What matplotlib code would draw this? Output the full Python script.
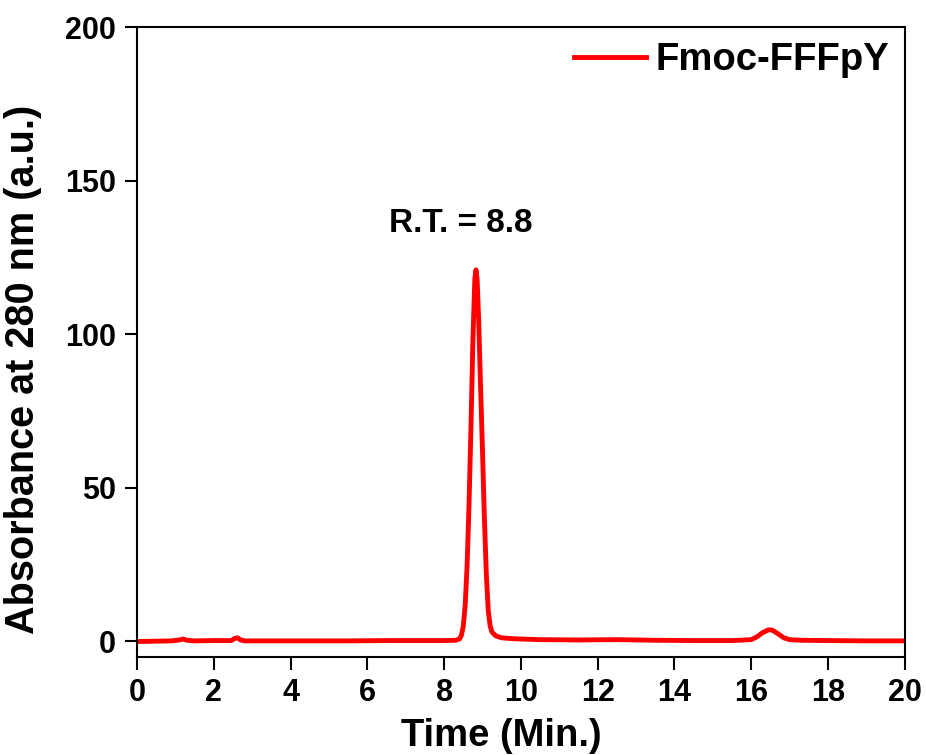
import matplotlib

matplotlib.use("Agg")
import matplotlib.pyplot as plt

plt.rcParams["font.family"] = ["Liberation Sans", "DejaVu Sans"]
plt.rcParams["font.weight"] = "bold"

# chromatogram (time in min, absorbance a.u.)
time_min = [
    0.0, 0.5, 0.9, 1.1, 1.2, 1.3, 1.5, 2.0, 2.45, 2.55, 2.62, 2.7, 2.8,
    3.5, 4.5, 5.5, 6.5, 7.5, 8.0, 8.3, 8.4, 8.45, 8.5, 8.55, 8.6, 8.65,
    8.7, 8.75, 8.8, 8.83, 8.86, 8.9, 8.95, 9.0, 9.05, 9.1, 9.15, 9.2,
    9.25, 9.35, 9.5, 9.8, 10.5, 11.5, 12.5, 13.5, 14.5, 15.5, 16.0,
    16.15, 16.3, 16.45, 16.55, 16.7, 16.85, 17.0, 17.3, 18.0, 19.0, 20.0,
]
absorbance = [
    0.0, 0.1, 0.2, 0.5, 0.8, 0.4, 0.2, 0.3, 0.3, 1.0, 1.2, 0.5, 0.2,
    0.2, 0.2, 0.2, 0.3, 0.3, 0.3, 0.4, 0.8, 2.0, 5.0, 12.0, 25.0, 45.0,
    70.0, 98.0, 118.0, 121.0, 118.0, 105.0, 83.0, 62.0, 40.0, 22.0, 10.0, 5.0,
    3.0, 1.8, 1.2, 0.9, 0.6, 0.5, 0.6, 0.4, 0.3, 0.3, 0.6,
    1.5, 2.9, 3.8, 3.7, 2.5, 1.2, 0.6, 0.4, 0.3, 0.2, 0.2,
]
series_label = "Fmoc-FFFpY"
x_ticks = [0, 2, 4, 6, 8, 10, 12, 14, 16, 18, 20]
y_ticks = [0, 50, 100, 150, 200]

fig = plt.figure(figsize=(9.26, 7.55), dpi=100)
ax = fig.add_axes([0.148, 0.130, 0.829, 0.834])

ax.plot(time_min, absorbance, color="#ff0000", linewidth=3.5, label=series_label)

ax.set_xlim(0, 20)
ax.set_ylim(-5, 200)
ax.set_xticks(x_ticks)
ax.set_yticks(y_ticks)
ax.tick_params(direction="out", length=9, width=1.5, labelsize=22,
               top=False, right=False, pad=6)
for sp in ax.spines.values():
    sp.set_linewidth(1.5)

ax.set_xlabel("Time (Min.)", fontsize=27.5, fontweight="bold")
ax.xaxis.set_label_coords(0.474, -0.097)
ax.set_ylabel("Absorbance at 280 nm (a.u.)", fontsize=28.5, fontweight="bold")
ax.yaxis.set_label_coords(-0.124, 0.456)

ax.text(8.44, 136, "R.T. = 8.8", fontsize=24, fontweight="bold",
        ha="center", va="center")

ax.legend(loc="upper right", frameon=False, fontsize=27.5, handlelength=1.9,
          handletextpad=0.25, borderaxespad=0.0)

fig.savefig("out.png", dpi=100, facecolor="white")
